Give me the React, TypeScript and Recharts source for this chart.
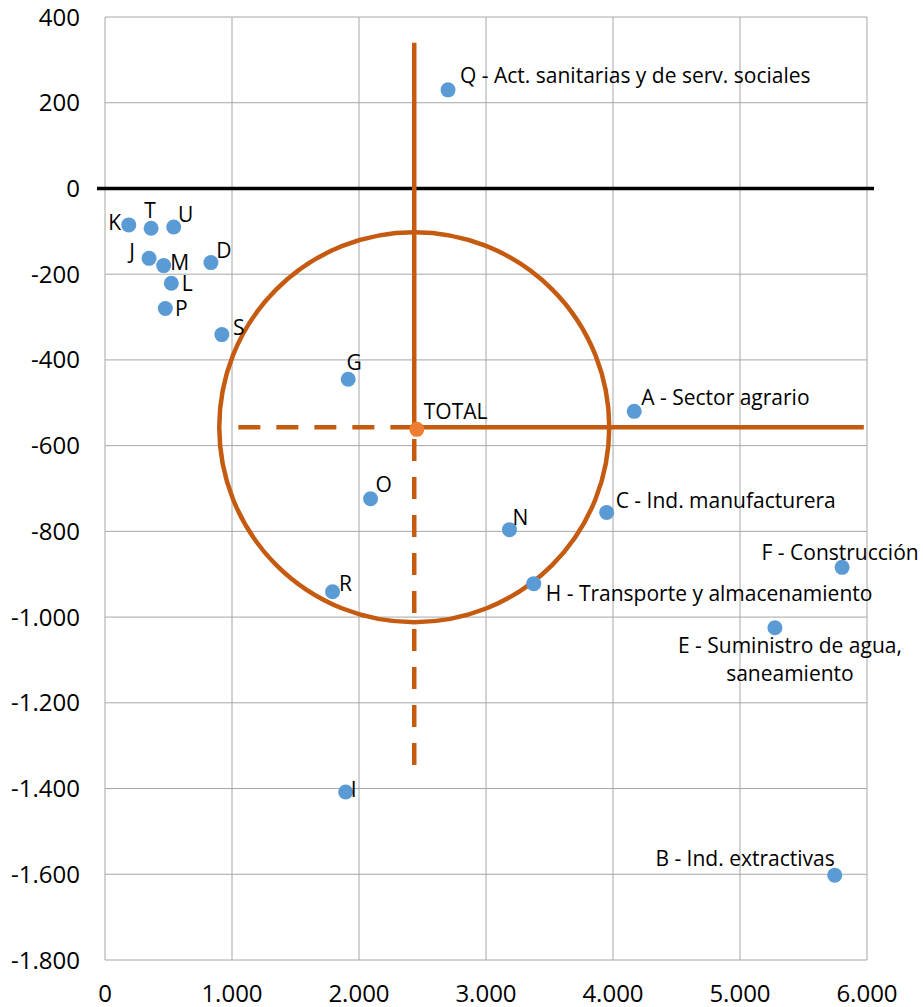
import React from "react";
import {
  ScatterChart,
  Scatter,
  XAxis,
  YAxis,
  CartesianGrid,
  ReferenceLine,
  ReferenceDot,
} from "recharts";

const sectorCodes = ["A", "B", "C", "D", "E", "F", "G", "H", "I", "J", "K", "L", "M", "N", "O", "P", "Q", "R", "S", "T", "U"];
const sectorLabels = [
  "A - Sector agrario",
  "B - Ind. extractivas",
  "C - Ind. manufacturera",
  "D",
  "E - Suministro de agua,\nsaneamiento",
  "F - Construcción",
  "G",
  "H - Transporte y almacenamiento",
  "I",
  "J",
  "K",
  "L",
  "M",
  "N",
  "O",
  "P",
  "Q - Act. sanitarias y de serv. sociales",
  "R",
  "S",
  "T",
  "U",
];
const sectorX = [4167, 5746, 3950, 834, 5275, 5804, 1915, 3376, 1895, 347, 187, 522, 462, 3185, 2091, 475, 2701, 1792, 920, 363, 541];
const sectorY = [-520, -1602, -756, -173, -1025, -884, -445, -922, -1408, -163, -85, -221, -180, -796, -724, -280, 230, -941, -341, -93, -90];

const totalLabel = "TOTAL";
const totalX = 2455;
const totalY = -562;

// cruz y círculo de referencia
const crossX = 2435;
const crossY = -557;
const crossTop = 340;
const crossBottom = -1345;
const crossLeft = 1050;
const crossRight = 5975;

const xTicks = [0, 1000, 2000, 3000, 4000, 5000, 6000];
const yTicks = [400, 200, 0, -200, -400, -600, -800, -1000, -1200, -1400, -1600, -1800];

const sectors = sectorCodes.map((code, i) => ({
  code,
  label: sectorLabels[i],
  x: sectorX[i],
  y: sectorY[i],
}));
const totalData = [{ code: "TOTAL", label: totalLabel, x: totalX, y: totalY }];

type Anchor = "start" | "middle" | "end";
const labelPos: Record<string, [number, number, Anchor]> = {
  A: [7, -14, "start"],
  B: [0, -17, "end"],
  C: [9, -13, "start"],
  D: [13, -13, "middle"],
  E: [15, 17, "middle"],
  F: [-2, -15, "middle"],
  G: [6, -17, "middle"],
  H: [12, 9, "start"],
  I: [8, -3, "middle"],
  J: [-17, -7, "middle"],
  K: [-14, -3, "middle"],
  L: [16, 0, "middle"],
  M: [16, -4, "middle"],
  N: [11, -13, "middle"],
  O: [13, -15, "middle"],
  P: [16, 0, "middle"],
  Q: [12, -15, "start"],
  R: [13, -9, "middle"],
  S: [17, -8, "middle"],
  T: [-1, -18, "middle"],
  U: [12, -13, "middle"],
  TOTAL: [7, -18, "start"],
};

const ORANGE = "#C55A11";
const FONT = "'Open Sans', sans-serif";

const fmt = (v: number) => {
  const s = Math.abs(v).toString().replace(/\B(?=(\d{3})+(?!\d))/g, ".");
  return v < 0 ? "-" + s : s;
};

const makeDot = (color: string) => (props: any) => {
  const { cx, cy, payload } = props;
  const [dx, dy, anchor] = labelPos[payload.code] || [8, -12, "start"];
  const lines = String(payload.label).split("\n");
  return (
    <g>
      <circle cx={cx} cy={cy} r={7.5} fill={color} />
      <text
        x={cx + dx}
        y={cy + dy}
        textAnchor={anchor}
        dominantBaseline="central"
        fontSize={21}
        fontFamily={FONT}
        fill="#000"
      >
        {lines.map((ln, i) => (
          <tspan key={i} x={cx + dx} dy={i === 0 ? 0 : 28}>
            {ln}
          </tspan>
        ))}
      </text>
    </g>
  );
};

const ring = (props: any) => (
  <circle cx={props.cx} cy={props.cy} r={195} fill="none" stroke={ORANGE} strokeWidth={4.5} />
);

export default function App() {
  return (
    <div style={{ position: "absolute", left: 0, top: 0, background: "#fff" }}>
      <ScatterChart
        width={923}
        height={1007}
        margin={{ top: 17, right: 56, bottom: 0, left: 0 }}
        style={{ fontFamily: FONT }}
      >
        <CartesianGrid stroke="#A6A6A6" strokeWidth={1} />
        <XAxis
          type="number"
          dataKey="x"
          domain={[0, 6000]}
          ticks={xTicks}
          tickFormatter={fmt}
          axisLine={false}
          tickLine={false}
          tickSize={0}
          tickMargin={25}
          height={47}
          tick={{ fill: "#000", fontSize: 24, fontFamily: FONT }}
          interval={0}
        />
        <YAxis
          type="number"
          dataKey="y"
          domain={[-1800, 400]}
          ticks={yTicks}
          tickFormatter={fmt}
          axisLine={false}
          tickLine={false}
          tickSize={0}
          tickMargin={25}
          width={105}
          tick={{ fill: "#000", fontSize: 24, fontFamily: FONT }}
          interval={0}
        />
        <ReferenceLine
          segment={[{ x: -63, y: 0 }, { x: 6055, y: 0 }]}
          stroke="#000"
          strokeWidth={3.5}
          ifOverflow="visible"
        />
        <ReferenceLine
          segment={[{ x: crossX, y: crossY }, { x: crossX, y: crossTop }]}
          stroke={ORANGE}
          strokeWidth={4.5}
        />
        <ReferenceLine
          segment={[{ x: crossX, y: crossBottom }, { x: crossX, y: crossY }]}
          stroke={ORANGE}
          strokeWidth={4.5}
          strokeDasharray="22 16"
        />
        <ReferenceLine
          segment={[{ x: crossX, y: crossY }, { x: crossRight, y: crossY }]}
          stroke={ORANGE}
          strokeWidth={4.5}
        />
        <ReferenceLine
          segment={[{ x: crossLeft, y: crossY }, { x: crossX, y: crossY }]}
          stroke={ORANGE}
          strokeWidth={4.5}
          strokeDasharray="22 16"
        />
        <ReferenceDot x={crossX} y={crossY} r={195} shape={ring} ifOverflow="visible" />
        <Scatter data={sectors} shape={makeDot("#5B9BD5")} isAnimationActive={false} />
        <Scatter data={totalData} shape={makeDot("#ED7D31")} isAnimationActive={false} />
      </ScatterChart>
    </div>
  );
}
